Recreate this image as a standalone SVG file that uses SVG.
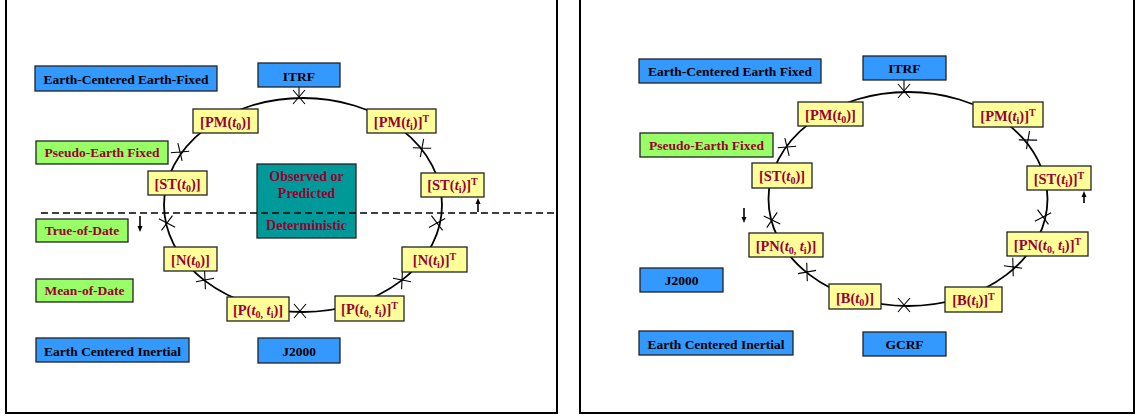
<svg xmlns="http://www.w3.org/2000/svg" xmlns:xlink="http://www.w3.org/1999/xlink" width="1135" height="418" viewBox="0 0 1135 418">
<defs>
<style>
.frame{fill:none;stroke:#000;stroke-width:2}
.b{fill:#3399FF;stroke:#222;stroke-width:1.3}
.g{fill:#99FF66;stroke:#222;stroke-width:1.3}
.y{fill:#FFFF99;stroke:#222;stroke-width:1.3}
.t{fill:#009999;stroke:#222;stroke-width:1.3}
.arc{fill:none;stroke:#000;stroke-width:1.8}
.tick{fill:none;stroke:#000;stroke-width:1.1}
.dash{fill:none;stroke:#000;stroke-width:1.5;stroke-dasharray:7 4}
.ar{stroke:#000;stroke-width:1.6}
.ah{fill:#000}
text{font-family:"Liberation Serif","Times New Roman",serif;font-weight:bold;text-anchor:middle}
.tk{font-size:13.5px;fill:#000}
.tr{font-size:13.5px;fill:#990033}
.trb{font-size:14px;fill:#990033}
.ty{font-size:14.5px;fill:#990033}
.i{font-style:italic}
.s{font-size:10px}
</style>
<path id="tk" class="tick" d="M-6,-7 L6,7 M-6,7 L6,-7"/>
</defs>

<!-- panel frames -->
<path class="frame" d="M6,-5 V413 H557 V-5"/>
<path class="frame" d="M580,-5 V413 H1134 V-5"/>

<!-- ===== LEFT PANEL ===== -->
<g id="connectors-left">
<ellipse class="arc" cx="303" cy="205" rx="139" ry="107"/>
<line class="tick" x1="299" y1="87" x2="299" y2="98"/>
<use xlink:href="#tk" transform="translate(299,97) rotate(0)"/>
<use xlink:href="#tk" transform="translate(180,152) rotate(-54)"/>
<use xlink:href="#tk" transform="translate(167,223) rotate(77)"/>
<use xlink:href="#tk" transform="translate(205,280) rotate(38)"/>
<use xlink:href="#tk" transform="translate(300,311) rotate(0)"/>
<use xlink:href="#tk" transform="translate(402,280) rotate(-38)"/>
<use xlink:href="#tk" transform="translate(437,223) rotate(-78)"/>
<use xlink:href="#tk" transform="translate(422,148) rotate(51)"/>
</g>

<g id="teal-left">
<rect class="t" x="257" y="164" width="99" height="74"/>
<text class="trb" x="306.5" y="181">Observed or</text>
<text class="trb" x="306.5" y="198">Predicted</text>
<text class="trb" x="306.5" y="230">Deterministic</text>
</g>

<g id="divider-left">
<line class="dash" x1="41" y1="213" x2="556" y2="213"/>
<line class="ar" x1="140" y1="216" x2="140" y2="227"/>
<polygon class="ah" points="137.5,226 142.5,226 140,232"/>
<line class="ar" x1="478" y1="212" x2="478" y2="203"/>
<polygon class="ah" points="475.5,204 480.5,204 478,198"/>
</g>

<g id="l-ecef"><rect class="b" x="35" y="66" width="182" height="25"/><text class="tk" x="126" y="84">Earth-Centered Earth-Fixed</text></g>
<g id="l-itrf"><rect class="b" x="258" y="63" width="82" height="24"/><text class="tk" x="299" y="80.5">ITRF</text></g>
<g id="l-pef"><rect class="g" x="36" y="141" width="132" height="23"/><text class="tr" x="102" y="157">Pseudo-Earth Fixed</text></g>
<g id="l-tod"><rect class="g" x="36" y="219" width="92" height="23"/><text class="tr" x="82" y="235">True-of-Date</text></g>
<g id="l-mod"><rect class="g" x="36" y="279" width="97" height="23"/><text class="tr" x="84.5" y="295">Mean-of-Date</text></g>
<g id="l-eci"><rect class="b" x="36" y="338" width="153" height="24"/><text class="tk" x="112.5" y="355.5">Earth Centered Inertial</text></g>
<g id="l-j2000"><rect class="b" x="258" y="338" width="82" height="25"/><text class="tk" x="299" y="355.5">J2000</text></g>

<g id="l-pm0"><rect class="y" x="193" y="109" width="65" height="24"/><text class="ty" x="225.5" y="127">[PM(<tspan class="i">t</tspan><tspan class="s" dy="3">0</tspan><tspan dy="-3">)]</tspan></text></g>
<g id="l-st0"><rect class="y" x="148" y="171" width="59" height="24"/><text class="ty" x="177.5" y="188.5">[ST(<tspan class="i">t</tspan><tspan class="s" dy="3">0</tspan><tspan dy="-3">)]</tspan></text></g>
<g id="l-n0"><rect class="y" x="164" y="247" width="53" height="24"/><text class="ty" x="190.5" y="265">[N(<tspan class="i">t</tspan><tspan class="s" dy="3">0</tspan><tspan dy="-3">)]</tspan></text></g>
<g id="l-p0i"><rect class="y" x="227" y="297" width="62" height="24"/><text class="ty" x="258" y="315">[P(<tspan class="i">t</tspan><tspan class="s" dy="3">0,</tspan><tspan dy="-3"> </tspan><tspan class="i">t</tspan><tspan class="s" dy="3">i</tspan><tspan dy="-3">)]</tspan></text></g>
<g id="l-p0iT"><rect class="y" x="335" y="296" width="69" height="25"/><text class="ty" x="369.5" y="314">[P(<tspan class="i">t</tspan><tspan class="s" dy="3">0,</tspan><tspan dy="-3"> </tspan><tspan class="i">t</tspan><tspan class="s" dy="3">i</tspan><tspan dy="-3">)]</tspan><tspan class="s" dy="-5">T</tspan></text></g>
<g id="l-niT"><rect class="y" x="402" y="247" width="65" height="25"/><text class="ty" x="434.5" y="265">[N(<tspan class="i">t</tspan><tspan class="s" dy="3">i</tspan><tspan dy="-3">)]</tspan><tspan class="s" dy="-5">T</tspan></text></g>
<g id="l-stiT"><rect class="y" x="421" y="173" width="63" height="24"/><text class="ty" x="452.5" y="190">[ST(<tspan class="i">t</tspan><tspan class="s" dy="3">i</tspan><tspan dy="-3">)]</tspan><tspan class="s" dy="-5">T</tspan></text></g>
<g id="l-pmiT"><rect class="y" x="367" y="109" width="69" height="24"/><text class="ty" x="401.5" y="127">[PM(<tspan class="i">t</tspan><tspan class="s" dy="3">i</tspan><tspan dy="-3">)]</tspan><tspan class="s" dy="-5">T</tspan></text></g>

<!-- ===== RIGHT PANEL ===== -->
<g id="connectors-right">
<ellipse class="arc" cx="908" cy="199" rx="139.5" ry="107"/>
<line class="tick" x1="904" y1="80" x2="904" y2="92"/>
<use xlink:href="#tk" transform="translate(904,91) rotate(0)"/>
<use xlink:href="#tk" transform="translate(787,147) rotate(-54)"/>
<use xlink:href="#tk" transform="translate(772,220) rotate(75)"/>
<use xlink:href="#tk" transform="translate(807,272) rotate(39)"/>
<use xlink:href="#tk" transform="translate(904,305) rotate(0)"/>
<use xlink:href="#tk" transform="translate(1013,267) rotate(-42)"/>
<use xlink:href="#tk" transform="translate(1043,217) rotate(-77)"/>
<use xlink:href="#tk" transform="translate(1028,140) rotate(50)"/>
<line class="ar" x1="744" y1="208" x2="744" y2="218"/>
<polygon class="ah" points="741.5,217 746.5,217 744,223"/>
<line class="ar" x1="1084" y1="203" x2="1084" y2="196"/>
<polygon class="ah" points="1081.5,197 1086.5,197 1084,191"/>
</g>

<g id="r-ecef"><rect class="b" x="639" y="59" width="182" height="24"/><text class="tk" x="730" y="75.5">Earth-Centered Earth Fixed</text></g>
<g id="r-itrf"><rect class="b" x="863" y="56" width="83" height="24"/><text class="tk" x="904.5" y="73">ITRF</text></g>
<g id="r-pef"><rect class="g" x="640" y="133" width="133" height="24"/><text class="tr" x="706.5" y="149.5">Pseudo-Earth Fixed</text></g>
<g id="r-j2000"><rect class="b" x="640" y="268" width="83" height="24"/><text class="tk" x="681.5" y="284.5">J2000</text></g>
<g id="r-eci"><rect class="b" x="639" y="331" width="154" height="24"/><text class="tk" x="716" y="348.5">Earth Centered Inertial</text></g>
<g id="r-gcrf"><rect class="b" x="863" y="332" width="83" height="24"/><text class="tk" x="904.5" y="348.5">GCRF</text></g>

<g id="r-pm0"><rect class="y" x="798" y="102" width="65" height="24"/><text class="ty" x="830.5" y="120">[PM(<tspan class="i">t</tspan><tspan class="s" dy="3">0</tspan><tspan dy="-3">)]</tspan></text></g>
<g id="r-st0"><rect class="y" x="752" y="163" width="60" height="25"/><text class="ty" x="782" y="181">[ST(<tspan class="i">t</tspan><tspan class="s" dy="3">0</tspan><tspan dy="-3">)]</tspan></text></g>
<g id="r-pn0i"><rect class="y" x="749" y="233" width="74" height="24"/><text class="ty" x="786" y="251">[PN(<tspan class="i">t</tspan><tspan class="s" dy="3">0,</tspan><tspan dy="-3"> </tspan><tspan class="i">t</tspan><tspan class="s" dy="3">i</tspan><tspan dy="-3">)]</tspan></text></g>
<g id="r-b0"><rect class="y" x="829" y="284" width="52" height="25"/><text class="ty" x="855" y="302.5">[B(<tspan class="i">t</tspan><tspan class="s" dy="3">0</tspan><tspan dy="-3">)]</tspan></text></g>
<g id="r-biT"><rect class="y" x="945" y="287" width="57" height="25"/><text class="ty" x="973.5" y="305">[B(<tspan class="i">t</tspan><tspan class="s" dy="3">i</tspan><tspan dy="-3">)]</tspan><tspan class="s" dy="-5">T</tspan></text></g>
<g id="r-pn0iT"><rect class="y" x="1007" y="232" width="81" height="24"/><text class="ty" x="1047.5" y="249.5">[PN(<tspan class="i">t</tspan><tspan class="s" dy="3">0,</tspan><tspan dy="-3"> </tspan><tspan class="i">t</tspan><tspan class="s" dy="3">i</tspan><tspan dy="-3">)]</tspan><tspan class="s" dy="-5">T</tspan></text></g>
<g id="r-stiT"><rect class="y" x="1027" y="166" width="64" height="24"/><text class="ty" x="1059" y="184">[ST(<tspan class="i">t</tspan><tspan class="s" dy="3">i</tspan><tspan dy="-3">)]</tspan><tspan class="s" dy="-5">T</tspan></text></g>
<g id="r-pmiT"><rect class="y" x="973" y="102" width="70" height="25"/><text class="ty" x="1008" y="120.5">[PM(<tspan class="i">t</tspan><tspan class="s" dy="3">i</tspan><tspan dy="-3">)]</tspan><tspan class="s" dy="-5">T</tspan></text></g>
</svg>
